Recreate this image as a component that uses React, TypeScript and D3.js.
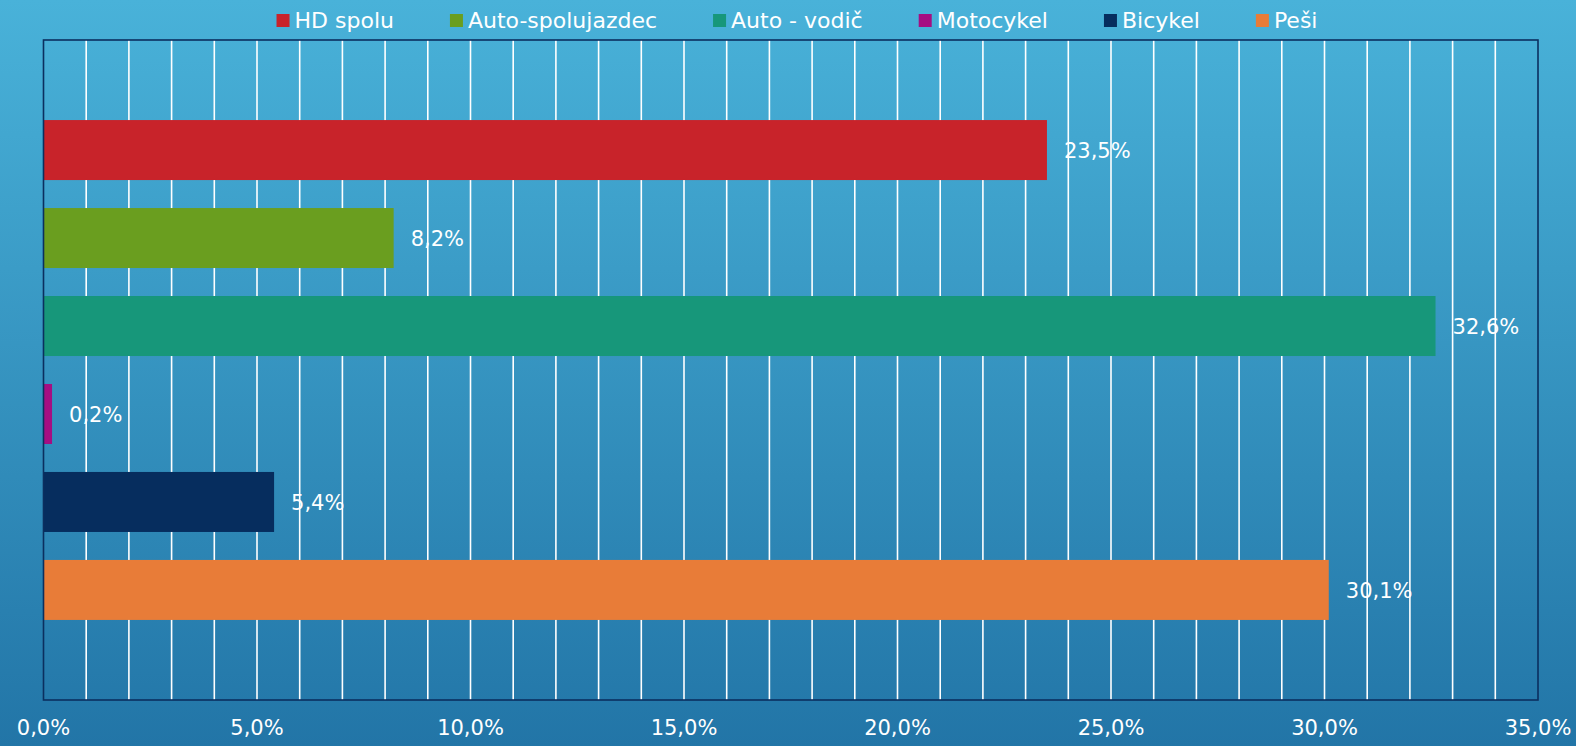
import { useEffect, useRef } from "react";
import * as d3 from "d3";

// series (one category, Excel-style clustered bars)
const series = ["HD spolu", "Auto-spolujazdec", "Auto - vodič", "Motocykel", "Bicykel", "Peši"];
const values = [23.5, 8.2, 32.6, 0.2, 5.4, 30.1];
const colors = ["#c8232a", "#6a9e1f", "#17977a", "#a50e82", "#062d5e", "#e87c38"];
const ticks = [0, 5, 10, 15, 20, 25, 30, 35];

const fmt = (v: number) => v.toFixed(1).replace(".", ",") + "%";

function App() {
  const width = 1576;
  const height = 746;
  const svgRef = useRef<SVGSVGElement>(null);

  useEffect(() => {
    const svg = d3.select(svgRef.current);
    svg.selectAll("*").remove();
    const font = "'DejaVu Sans', sans-serif";

    const left = 43.5;
    const right = 1538;
    const top = 40;
    const bottom = 700;

    const x = d3.scaleLinear().domain([0, 35]).range([left, right]);
    const y = d3
      .scaleBand()
      .domain(series)
      .range([top, bottom])
      .paddingInner(0.318)
      .paddingOuter(0.91);

    // background
    const defs = svg.append("defs");
    const grad = defs
      .append("linearGradient")
      .attr("id", "bg")
      .attr("x1", "0")
      .attr("y1", "0")
      .attr("x2", "0")
      .attr("y2", "1");
    grad.append("stop").attr("offset", "0%").attr("stop-color", "#49b2d9");
    grad.append("stop").attr("offset", "100%").attr("stop-color", "#2275a7");
    svg.append("rect").attr("width", width).attr("height", height).attr("fill", "url(#bg)");

    // gridlines every 1%
    svg
      .append("g")
      .selectAll("line")
      .data(d3.range(1, 35))
      .join("line")
      .attr("x1", (d) => x(d))
      .attr("x2", (d) => x(d))
      .attr("y1", top)
      .attr("y2", bottom)
      .attr("stroke", "#ffffff")
      .attr("stroke-width", 1.6);

    // bars
    svg
      .append("g")
      .selectAll("rect")
      .data(series)
      .join("rect")
      .attr("x", x(0))
      .attr("y", (d) => y(d)!)
      .attr("width", (d, i) => x(values[i]) - x(0))
      .attr("height", y.bandwidth())
      .attr("fill", (d, i) => colors[i]);

    // data labels
    svg
      .append("g")
      .selectAll("text")
      .data(series)
      .join("text")
      .attr("x", (d, i) => x(values[i]) + 17)
      .attr("y", (d) => y(d)! + y.bandwidth() / 2)
      .attr("dy", "0.36em")
      .attr("fill", "#ffffff")
      .style("font-family", font)
      .style("font-size", "21px")
      .text((d, i) => fmt(values[i]));

    // plot border
    svg
      .append("rect")
      .attr("x", left)
      .attr("y", top)
      .attr("width", right - left)
      .attr("height", bottom - top)
      .attr("fill", "none")
      .attr("stroke", "#0b2f5f")
      .attr("stroke-width", 1.6);

    // x axis labels
    svg
      .append("g")
      .selectAll("text")
      .data(ticks)
      .join("text")
      .attr("x", (d) => x(d))
      .attr("y", 735)
      .attr("text-anchor", "middle")
      .attr("fill", "#ffffff")
      .style("font-family", font)
      .style("font-size", "21px")
      .text((d) => fmt(d));

    // legend
    const legend = svg.append("g");
    const items = legend
      .selectAll("g")
      .data(series)
      .join("g");
    items
      .append("rect")
      .attr("width", 13)
      .attr("height", 13)
      .attr("y", 14)
      .attr("fill", (d, i) => colors[i]);
    items
      .append("text")
      .attr("x", 18)
      .attr("y", 28)
      .attr("fill", "#ffffff")
      .style("font-family", font)
      .style("font-size", "22px")
      .text((d) => d);
    const gap = 56;
    let cx = 0;
    const offsets: number[] = [];
    items.each(function () {
      const t = d3.select(this).select("text").node() as SVGTextElement;
      offsets.push(cx);
      cx += 18 + t.getComputedTextLength() + gap;
    });
    const total = cx - gap;
    const start = 797 - total / 2;
    items.attr("transform", (d, i) => `translate(${start + offsets[i]},0)`);
  }, []);

  return (
    <svg
      ref={svgRef}
      width={width}
      height={height}
      style={{ display: "block", position: "absolute", left: 0, top: 0 }}
    />
  );
}

export default App;
